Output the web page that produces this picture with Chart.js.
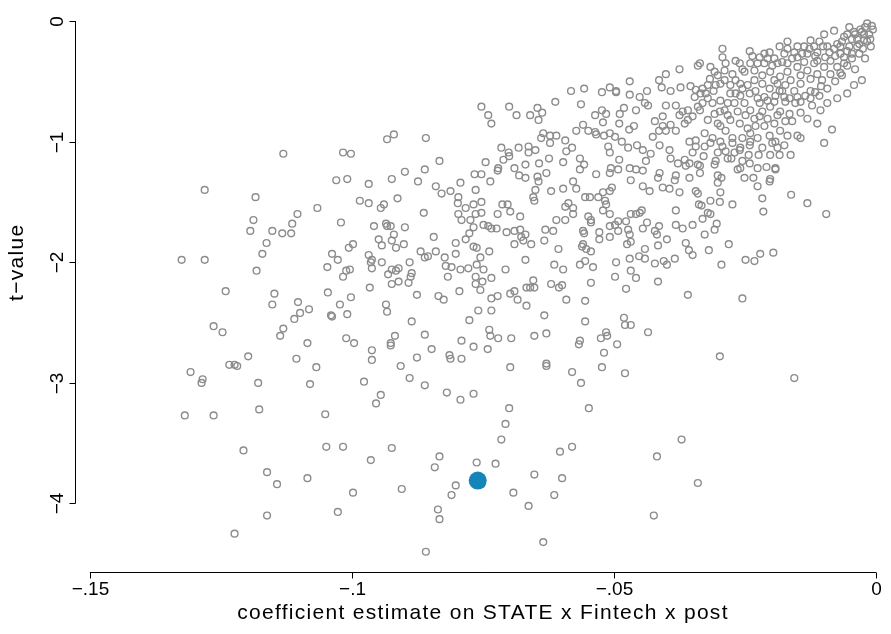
<!DOCTYPE html>
<html>
<head>
<meta charset="utf-8">
<style>
  html, body { margin: 0; padding: 0; background: #fff; }
</style>
<script src="https://cdn.jsdelivr.net/npm/chart.js@4.4.0/dist/chart.umd.min.js"></script>
</head>
<body>
<canvas id="graph" width="891" height="634"></canvas>
<script>
// coefficient estimates (x) and t-values (y)
var coefEst = [
-0.1131,-0.1017,-0.1002,-0.1281,-0.1184,-0.1030,-0.1009,-0.1066,-0.1104,-0.1188,
-0.1114,-0.1194,-0.1152,-0.1133,-0.1116,-0.1021,-0.1163,-0.1171,-0.1325,-0.1281,
-0.1038,-0.1027,-0.1006,-0.0998,-0.1047,-0.1011,-0.1004,-0.1182,-0.1017,-0.1241,
-0.1148,-0.1152,-0.1103,-0.1099,-0.1082,-0.1110,-0.1046,-0.1023,-0.1040,-0.1038,
-0.1009,-0.1002,-0.1264,-0.1247,-0.1131,-0.1137,-0.1085,-0.1011,-0.0996,-0.1198,
-0.1234,-0.1224,-0.1219,-0.1106,-0.1068,-0.1308,-0.1285,-0.1287,-0.1179,-0.1080,
-0.1319,-0.1264,-0.1177,-0.1051,-0.1207,-0.1049,-0.1017,-0.1162,-0.1143,-0.1085,
-0.0998,-0.1027,-0.1162,-0.1224,-0.0933,-0.0920,-0.0859,-0.0833,-0.0968,-0.0924,
-0.0899,-0.0874,-0.0861,-0.0840,-0.0829,-0.0812,-0.0793,-0.0797,-0.0764,-0.0766,
-0.0753,-0.0745,-0.0736,-0.0722,-0.0721,-0.0715,-0.0711,-0.0701,-0.0700,-0.0682,
-0.0663,-0.0690,-0.0681,-0.0669,-0.0669,-0.0985,-0.0968,-0.0945,-0.0939,-0.0913,
-0.0863,-0.0798,-0.0783,-0.0768,-0.0753,-0.0753,-0.0764,-0.0797,-0.0791,-0.0774,
-0.0768,-0.0749,-0.0740,-0.0734,-0.0724,-0.0722,-0.0713,-0.0703,-0.0698,-0.0679,
-0.0705,-0.0690,-0.0679,-0.0677,-0.0673,-0.0690,-0.0669,-0.0958,-0.0935,-0.0933,
-0.0926,-0.0899,-0.0920,-0.0949,-0.0943,-0.0924,-0.0916,-0.0901,-0.0844,-0.0802,
-0.0783,-0.0776,-0.0768,-0.0762,-0.0755,-0.0738,-0.0802,-0.0823,-0.0840,-0.0855,
-0.0861,-0.0869,-0.0890,-0.0943,-0.0968,-0.0962,-0.0964,-0.0962,-0.0924,-0.0911,
-0.0821,-0.0810,-0.0793,-0.0778,-0.0762,-0.0749,-0.0707,-0.0734,-0.0931,-0.0916,
-0.0924,-0.0911,-0.0892,-0.0888,-0.0886,-0.0817,-0.0764,-0.0764,-0.0751,-0.0755,
-0.0734,-0.0698,-0.0690,-0.0684,-0.0667,-0.0667,-0.0722,-0.0734,-0.0966,-0.0876,
-0.0835,-0.0825,-0.0795,-0.0935,-0.0933,-0.0886,-0.0776,-0.0759,-0.0734,-0.0738,
-0.0736,-0.0721,-0.0696,-0.0918,-0.0926,-0.0926,-0.0962,-0.0962,-0.0861,-0.0848,
-0.0876,-0.0907,-0.0814,-0.0812,-0.0791,-0.0791,-0.0768,-0.0741,-0.0698,-0.0890,
-0.0861,-0.0977,-0.0945,-0.0954,-0.0819,-0.0793,-0.0768,-0.0700,-0.0707,-0.0715,
-0.0924,-0.0964,-0.0833,-0.0842,-0.0762,-0.0726,-0.0905,-0.0802,-0.0810,-0.0753,
-0.0692,-0.0663,-0.0836,-0.0833,-0.0859,-0.0652,-0.0629,-0.0565,-0.0567,-0.0525,
-0.0513,-0.0515,-0.0494,-0.0519,-0.0435,-0.0629,-0.0629,-0.0580,-0.0563,-0.0523,
-0.0479,-0.0548,-0.0371,-0.0418,-0.0580,-0.0603,-0.0652,-0.0599,-0.0614,-0.0340,
-0.0424,-0.0635,-0.0255,-0.0298,-0.0156,-0.0652,-0.0593,-0.0587,-0.0578,-0.0578,
-0.0610,-0.0593,-0.0631,-0.0616,-0.0669,-0.0633,-0.0658,-0.0606,-0.0559,-0.0557,
-0.0549,-0.0544,-0.0544,-0.0517,-0.0515,-0.0521,-0.0508,-0.0528,-0.0528,-0.0559,
-0.0561,-0.0553,-0.0544,-0.0508,-0.0508,-0.0498,-0.0492,-0.0492,-0.0477,-0.0473,
-0.0468,-0.0458,-0.0451,-0.0447,-0.0470,-0.0475,-0.0468,-0.0445,-0.0437,-0.0422,
-0.0418,-0.0414,-0.0416,-0.0441,-0.0452,-0.0441,-0.0470,-0.0496,-0.0468,-0.0458,
-0.0498,-0.0477,-0.0399,-0.0382,-0.0382,-0.0369,-0.0350,-0.0363,-0.0357,-0.0350,
-0.0384,-0.0405,-0.0399,-0.0422,-0.0416,-0.0359,-0.0555,-0.0565,-0.0540,-0.0614,
-0.0597,-0.0544,-0.0654,-0.0660,-0.0652,-0.0620,-0.0605,-0.0599,-0.0591,-0.0555,
-0.0633,-0.0555,-0.0481,-0.0479,-0.0468,-0.0338,-0.0375,-0.0340,-0.0401,-0.0414,
-0.0409,-0.0470,-0.0582,-0.0557,-0.0508,-0.0496,-0.0496,-0.0523,-0.0470,-0.0437,
-0.0392,-0.0373,-0.0354,-0.0344,-0.0346,-0.0451,-0.0441,-0.0435,-0.0612,-0.0563,
-0.0660,-0.0646,-0.0637,-0.0644,-0.0536,-0.0523,-0.0515,-0.0521,-0.0489,-0.0481,
-0.0458,-0.0490,-0.0471,-0.0462,-0.0559,-0.0572,-0.0549,-0.0536,-0.0401,-0.0382,
-0.0369,-0.0359,-0.0350,-0.0359,-0.0375,-0.0407,-0.0422,-0.0407,-0.0401,-0.0392,
-0.0382,-0.0365,-0.0340,-0.0635,-0.0622,-0.0610,-0.0639,-0.0622,-0.0593,-0.0663,
-0.0650,-0.0643,-0.0624,-0.0597,-0.0580,-0.0591,-0.0565,-0.0557,-0.0565,-0.0534,
-0.0519,-0.0508,-0.0498,-0.0485,-0.0511,-0.0508,-0.0490,-0.0473,-0.0456,-0.0445,
-0.0430,-0.0439,-0.0458,-0.0445,-0.0470,-0.0492,-0.0506,-0.0508,-0.0534,-0.0413,
-0.0426,-0.0414,-0.0394,-0.0392,-0.0378,-0.0365,-0.0363,-0.0356,-0.0350,-0.0344,
-0.0344,-0.0356,-0.0340,-0.0382,-0.0413,-0.0416,-0.0384,-0.0356,-0.0407,-0.0394,
-0.0375,-0.0344,-0.0445,-0.0432,-0.0468,-0.0504,-0.0508,-0.0521,-0.0530,-0.0578,
-0.0597,-0.0572,-0.0555,-0.0546,-0.0629,-0.0646,-0.0644,-0.0650,-0.0620,-0.0654,
-0.0753,-0.0740,-0.0700,-0.0686,-0.0099,-0.0162,-0.0131,-0.0095,-0.0217,-0.0215,
-0.0226,-0.0203,-0.0202,-0.0192,-0.0192,-0.0209,-0.0234,-0.0251,-0.0264,-0.0259,
-0.0276,-0.0295,-0.0302,-0.0302,-0.0297,-0.0298,-0.0316,-0.0333,-0.0340,-0.0274,
-0.0321,-0.0316,-0.0331,-0.0304,-0.0308,-0.0327,-0.0319,-0.0281,-0.0295,-0.0249,
-0.0232,-0.0221,-0.0196,-0.0224,-0.0202,-0.0184,-0.0163,-0.0243,-0.0188,-0.0175,
-0.0192,-0.0144,-0.0329,-0.0306,-0.0308,-0.0336,-0.0336,-0.0327,-0.0316,-0.0293,
-0.0297,-0.0274,-0.0260,-0.0259,-0.0241,-0.0240,-0.0226,-0.0293,-0.0293,-0.0241,
-0.0222,-0.0184,-0.0169,-0.0150,-0.0125,-0.0099,-0.0080,-0.0051,-0.0040,-0.0042,
-0.0027,-0.0023,-0.0106,-0.0084,-0.0116,-0.0105,-0.0144,-0.0144,-0.0150,-0.0068,
-0.0125,-0.0336,-0.0316,-0.0308,-0.0289,-0.0268,-0.0260,-0.0240,-0.0213,-0.0203,
-0.0335,-0.0325,-0.0310,-0.0331,-0.0336,-0.0297,-0.0289,-0.0268,-0.0251,-0.0232,
-0.0217,-0.0203,-0.0184,-0.0175,-0.0194,-0.0202,-0.0183,-0.0165,-0.0222,-0.0240,
-0.0251,-0.0259,-0.0278,-0.0297,-0.0289,-0.0278,-0.0260,-0.0245,-0.0230,-0.0213,
-0.0194,-0.0183,-0.0297,-0.0302,-0.0287,-0.0274,-0.0255,-0.0240,-0.0327,-0.0312,
-0.0203,-0.0150,-0.0131,-0.0112,-0.0093,-0.0074,-0.0061,-0.0042,-0.0030,-0.0021,
-0.0023,-0.0036,-0.0051,-0.0068,-0.0087,-0.0099,-0.0087,-0.0112,-0.0131,-0.0150,
-0.0169,-0.0188,-0.0202,-0.0183,-0.0163,-0.0144,-0.0125,-0.0156,-0.0173,-0.0194,
-0.0217,-0.0232,-0.0245,-0.0230,-0.0213,-0.0222,-0.0270,-0.0308,-0.0321,-0.0112,
-0.0061,-0.0074,-0.0046,-0.0036,-0.0061,-0.0080,-0.0097,-0.0118,-0.0137,-0.0118,
-0.0137,-0.0156,-0.0175,-0.0194,-0.0213,-0.0169,-0.0144,-0.0103,-0.0125,-0.0150,
-0.0173,-0.0188,-0.0259,-0.0278,-0.0306,-0.0321,-0.0017,-0.0008,-0.0027,-0.0013,
-0.0006,-0.0011,-0.0032,-0.0046,
-0.0065,-0.0055,-0.0046,-0.0032,-0.0025,-0.0017,-0.0010,-0.0021,-0.0040,-0.0055,
-0.0068,-0.0078,-0.0089,-0.0101,-0.0108,-0.0116,-0.0127,-0.0141,-0.0160,-0.0169,
-0.0179,-0.0198,-0.0207,-0.0226,-0.0236,-0.0255,-0.0274,-0.0287,-0.0302,-0.0317,
-0.0055,-0.0065,-0.0078,-0.0093,-0.0108,-0.0122,-0.0135,-0.0154,-0.0165,-0.0179,
-0.0192,-0.0207,-0.0217,-0.0232,-0.0249,-0.0264,-0.0283,-0.0298,-0.0312,-0.0321,
-0.0331,-0.0160,-0.0173,-0.0188,-0.0207,-0.0226,-0.0241,-0.0255,-0.0268,-0.0283,
-0.0302,-0.0287,-0.0283,-0.0270,-0.0255,-0.0241,-0.0226,-0.0217,-0.0198,-0.0169,
-0.0131,-0.0112,-0.0093,-0.0074,-0.0055
];
var tValue = [
-1.10,-1.09,-1.10,-1.40,-1.46,-1.32,-1.31,-1.55,-1.60,-1.65,
-1.68,-1.74,-1.74,-1.76,-1.76,-1.67,-1.84,-1.93,-1.98,-1.98,
-1.93,-1.98,-1.88,-1.85,-2.04,-2.07,-2.06,-2.07,-2.12,-2.24,
-2.26,-2.35,-2.33,-2.42,-2.39,-2.47,-2.25,-2.35,-2.44,-2.45,
-2.43,-2.29,-2.53,-2.58,-2.55,-2.61,-2.67,-2.63,-2.67,-2.78,
-2.85,-2.85,-2.86,-2.80,-2.87,-2.91,-2.97,-3.00,-3.00,-3.01,
-3.27,-3.27,-3.22,-3.26,-3.56,-3.53,-3.53,-3.74,-3.84,-3.79,
-3.91,-4.07,-4.10,-4.25,-0.98,-0.94,-0.97,-1.16,-1.35,-1.31,
-1.25,-1.33,-1.23,-1.37,-1.43,-1.41,-1.34,-1.46,-1.40,-1.27,
-1.27,-1.17,-1.33,-1.24,-1.22,-1.05,-1.15,-1.09,-1.12,-1.05,
-1.04,-1.22,-1.28,-1.19,-1.30,-1.49,-1.51,-1.55,-1.52,-1.47,
-1.59,-1.51,-1.55,-1.52,-1.50,-1.59,-1.60,-1.60,-1.65,-1.65,
-1.71,-1.69,-1.70,-1.72,-1.72,-1.60,-1.52,-1.52,-1.58,-1.62,
-1.75,-1.74,-1.73,-1.79,-1.82,-1.85,-1.98,-1.70,-1.68,-1.70,
-1.70,-1.71,-1.77,-1.81,-1.86,-1.82,-1.88,-1.85,-1.79,-1.84,
-1.81,-1.76,-1.87,-1.88,-1.96,-1.91,-1.93,-1.96,-1.91,-1.95,
-1.96,-1.91,-2.00,-2.00,-1.94,-1.98,-2.00,-2.05,-2.06,-2.05,
-2.03,-2.04,-2.06,-2.05,-2.02,-2.06,-2.06,-0.85,-2.10,-2.07,
-2.18,-2.16,-2.17,-2.12,-2.09,-2.12,-2.12,-2.18,-2.16,-2.23,
-2.13,-2.26,-2.24,-2.31,-2.21,-2.36,-2.28,-2.30,-2.21,-2.27,
-2.28,-2.31,-2.24,-2.35,-2.41,-2.49,-2.48,-2.40,-2.40,-2.56,
-2.61,-2.63,-2.63,-2.61,-2.69,-2.67,-2.73,-2.81,-2.60,-2.72,
-2.79,-2.86,-2.77,-2.80,-2.80,-2.65,-2.70,-2.72,-2.87,-2.96,
-3.02,-2.99,-3.10,-3.17,-3.08,-3.14,-3.09,-3.21,-3.34,-3.47,
-3.54,-3.64,-3.61,-3.70,-3.66,-3.67,-3.88,-3.85,-3.93,-3.84,
-3.91,-4.02,-4.05,-4.13,-4.40,-2.61,-2.59,-2.65,-2.68,-2.63,
-2.61,-2.58,-2.68,-2.75,-2.58,-2.84,-2.86,-2.91,-3.00,-2.87,
-2.92,-3.21,-3.47,-3.61,-3.53,-3.57,-3.76,-3.79,-3.93,-3.83,
-4.10,-4.32,-2.30,-2.78,-2.96,-1.49,-1.54,-1.51,-1.55,-1.60,
-1.65,-1.65,-1.73,-1.74,-1.77,-1.82,-1.85,-1.89,-1.74,-1.76,
-1.62,-1.65,-1.67,-1.49,-1.52,-1.57,-1.60,-1.75,-1.81,-1.85,
-1.87,-1.89,-1.91,-1.79,-1.70,-1.69,-1.66,-1.74,-1.66,-1.73,
-1.60,-1.60,-1.59,-1.57,-1.77,-1.85,-1.83,-1.72,-1.67,-1.74,
-1.77,-1.70,-1.86,-1.89,-1.95,-1.97,-1.97,-2.00,-2.07,-2.13,
-2.12,-2.22,-1.81,-1.57,-1.69,-1.72,-1.69,-1.84,-1.90,-1.94,
-1.97,-1.99,-2.02,-2.01,-2.16,-2.27,-1.99,-2.02,-2.04,-2.02,
-2.06,-2.17,-2.15,-2.21,-2.21,-2.18,-2.21,-2.19,-2.31,-2.32,
-2.44,-2.49,-2.46,-2.52,-2.52,-1.52,-0.40,-0.37,-0.44,-0.49,
-0.55,-0.50,-0.58,-0.56,-0.55,-0.58,-0.59,-0.59,-0.61,-0.58,
-0.58,-0.55,-0.54,-0.57,-0.63,-0.63,-0.68,-0.70,-0.67,-0.69,
-0.78,-0.72,-0.76,-0.82,-0.78,-0.74,-0.77,-0.84,-0.77,-0.72,
-0.74,-0.85,-0.90,-0.87,-0.86,-0.91,-0.91,-0.92,-0.70,-0.70,
-0.75,-0.74,-0.79,-0.82,-0.78,-0.79,-0.83,-0.87,-0.91,-0.86,
-0.91,-0.85,-0.71,-0.93,-0.95,-0.95,-0.97,-1.01,-0.99,-1.09,
-1.07,-1.18,-1.14,-1.17,-1.05,-1.08,-1.14,-1.19,-1.23,-0.94,
-0.95,-0.93,-0.96,-1.00,-1.04,-1.09,-1.15,-1.05,-1.03,-1.07,
-1.10,-1.16,-1.23,-1.24,-1.22,-1.23,-1.22,-1.26,-1.27,-1.03,
-0.96,-0.91,-1.07,-1.14,-1.18,-1.15,-1.20,-1.18,-1.09,-1.04,
-0.99,-1.00,-1.19,-1.28,-1.26,-1.30,-1.32,-1.30,-1.38,-1.39,
-1.42,-1.41,-1.37,-1.41,-1.32,-1.38,-1.41,-1.42,-1.46,-1.33,
-1.39,-1.39,-1.46,-1.46,-1.26,-1.29,-1.33,-1.40,-1.41,-1.46,
-0.71,-0.78,-0.71,-0.78,-1.01,-1.44,-1.51,-1.60,-1.47,-1.58,
-1.37,-1.33,-1.31,-1.23,-1.22,-1.21,-1.30,-1.30,-1.23,-1.22,
-1.14,-1.30,-1.28,-1.34,-1.42,-1.50,-1.49,-1.53,-1.43,-1.52,
-1.59,-1.60,-1.64,-1.68,-1.73,-1.77,-1.90,-1.85,-2.02,-1.98,
-1.99,-1.93,-1.92,-1.11,-1.11,-1.11,-1.11,-1.11,-1.05,-1.03,
-1.00,-0.97,-1.12,-1.16,-1.19,-1.20,-1.26,-1.04,-1.01,-1.04,
-1.00,-1.01,-1.07,-1.05,-1.03,-1.00,-0.97,-0.23,-0.30,-0.25,
-0.30,-0.21,-0.17,-0.21,-0.16,-0.11,-0.08,-0.05,-0.40,-0.53,
-0.49,-0.16,-0.74,-0.90,-0.59,-0.54,-0.76,-0.67,-0.95,-0.43,
-0.48,-0.35,-0.38,-0.42,-0.41,-0.33,-0.35,-0.35,-0.27,-0.26,
-0.60,-0.60,-0.58,-0.68,-0.74,-0.52,-0.49,-0.49,-0.42,-0.41,
-0.52,-0.56,-0.58,-0.63,-0.67,-0.71,-0.75,-0.77,-0.79,-0.74,
-0.68,-0.62,-0.60,-0.66,-0.74,-0.82,-0.85,-0.89,-0.87,-0.87,
-0.85,-0.91,-0.87,-0.85,-0.91,-0.97,-0.97,-0.93,-0.93,-0.97,
-0.95,-0.30,-0.27,-0.26,-0.21,-0.19,-0.13,-0.09,-0.07,-0.05,
-0.11,-0.15,-0.21,-0.27,-0.33,-0.38,-0.44,-0.44,-0.41,-0.38,
-0.35,-0.35,-0.42,-0.46,-0.49,-0.52,-0.58,-0.58,-0.53,-0.49,
-0.45,-0.49,-0.53,-0.58,-0.63,-0.68,-0.68,-0.77,-0.82,-0.33,
-0.35,-0.38,-0.27,-0.21,-0.30,-0.23,-0.30,-0.35,-0.34,-0.21,
-0.21,-0.26,-0.27,-0.31,-0.35,-0.42,-0.45,-0.49,-0.64,-0.63,
-0.67,-0.52,-0.52,-0.53,-0.53,-0.53,-0.02,-0.04,-0.09,-0.11,
-0.07,-0.15,-0.19,-0.15,
-0.17,-0.25,-0.31,-0.27,-0.23,-0.17,-0.21,-0.31,-0.11,-0.11,
-0.21,-0.29,-0.26,-0.21,-0.17,-0.29,-0.23,-0.27,-0.31,-0.23,
-0.34,-0.37,-0.31,-0.35,-0.29,-0.40,-0.44,-0.35,-0.45,-0.48,
-0.37,-0.45,-0.50,-0.56,-0.62,-0.70,-0.62,-0.68,-0.64,-0.58,
-0.62,-0.66,-0.75,-0.81,-0.78,-0.75,-0.78,-0.75,-0.68,-0.64,
-0.56,-0.83,-0.83,-0.78,-0.81,-0.64,-0.60,-0.56,-0.60,-0.68,
-1.09,-1.08,-1.14,-1.09,-1.16,-1.18,-1.22,-1.05,-1.01,-0.95,
-0.81,-0.85,-0.68,-0.64,-0.60
];

// highlighted estimate
var pickCoef = [-0.0760];
var pickT = [-3.81];

var xTicks = [-0.15, -0.1, -0.05, 0];
var xTickLabels = ['\u2212.15', '\u2212.1', '\u2212.05', '0'];
var yTicks = [0, -1, -2, -3, -4];
var yTickLabels = ['0', '\u22121', '\u22122', '\u22123', '\u22124'];
var xTitle = 'coefficient estimate on STATE x Fintech x post';
var yTitle = 't\u2212value';

var grayPts = [];
for (var i = 0; i < coefEst.length; i++) {
    grayPts.push({x: coefEst[i], y: tValue[i]});
}
var bluePts = [];
for (var j = 0; j < pickCoef.length; j++) {
    bluePts.push({x: pickCoef[j], y: pickT[j]});
}

var tickFont = '19px "Liberation Sans", Arial, sans-serif';
var titleFont = '21px "Liberation Sans", Arial, sans-serif';

// Stata style axes: lines only over the labelled range, outward ticks
var stataAxes = {
    id: 'stataAxes',
    afterDraw: function (chart) {
        var ctx = chart.ctx;
        var xs = chart.scales.x;
        var ys = chart.scales.y;
        var area = chart.chartArea;
        ctx.save();
        ctx.strokeStyle = '#000';
        ctx.fillStyle = '#000';
        ctx.lineWidth = 1;

        // x axis
        var yb = Math.round(area.bottom) + 0.5;
        ctx.beginPath();
        ctx.moveTo(xs.getPixelForValue(xTicks[0]), yb);
        ctx.lineTo(xs.getPixelForValue(xTicks[xTicks.length - 1]), yb);
        ctx.stroke();
        ctx.font = tickFont;
        ctx.textAlign = 'center';
        ctx.textBaseline = 'top';
        for (var i = 0; i < xTicks.length; i++) {
            var px = Math.round(xs.getPixelForValue(xTicks[i])) + 0.5;
            ctx.beginPath();
            ctx.moveTo(px, yb);
            ctx.lineTo(px, yb + 6);
            ctx.stroke();
            ctx.fillText(xTickLabels[i], px, yb + 8);
        }
        ctx.font = titleFont;
        ctx.letterSpacing = '1.3px';
        ctx.textBaseline = 'middle';
        ctx.fillText(xTitle, (xs.getPixelForValue(xTicks[0]) + xs.getPixelForValue(0)) / 2, 613);
        ctx.letterSpacing = '0px';

        // y axis
        var xl = Math.round(area.left) + 0.5;
        ctx.beginPath();
        ctx.moveTo(xl, ys.getPixelForValue(yTicks[0]));
        ctx.lineTo(xl, ys.getPixelForValue(yTicks[yTicks.length - 1]));
        ctx.stroke();
        ctx.font = tickFont;
        for (var k = 0; k < yTicks.length; k++) {
            var py = Math.round(ys.getPixelForValue(yTicks[k])) + 0.5;
            ctx.beginPath();
            ctx.moveTo(xl, py);
            ctx.lineTo(xl - 6, py);
            ctx.stroke();
            ctx.save();
            ctx.translate(xl - 8, py);
            ctx.rotate(-Math.PI / 2);
            ctx.textAlign = 'center';
            ctx.textBaseline = 'bottom';
            ctx.fillText(yTickLabels[k], 0, 0);
            ctx.restore();
        }
        ctx.font = titleFont;
        ctx.letterSpacing = '1.3px';
        ctx.save();
        ctx.translate(17, (ys.getPixelForValue(0) + ys.getPixelForValue(-4)) / 2);
        ctx.rotate(-Math.PI / 2);
        ctx.textAlign = 'center';
        ctx.textBaseline = 'middle';
        ctx.fillText(yTitle, 0, 0);
        ctx.restore();
        ctx.letterSpacing = '0px';

        ctx.restore();
    }
};

new Chart(document.getElementById('graph'), {
    type: 'scatter',
    data: {
        datasets: [
            {
                label: 'selected',
                data: bluePts,
                pointRadius: 9,
                pointBackgroundColor: '#1385b8',
                pointBorderColor: '#1385b8',
                pointBorderWidth: 0
            },
            {
                label: 'estimates',
                data: grayPts,
                pointRadius: 3.4,
                pointBackgroundColor: 'rgba(0,0,0,0)',
                pointBorderColor: '#8c8c8c',
                pointBorderWidth: 1.4
            }
        ]
    },
    options: {
        responsive: false,
        animation: false,
        devicePixelRatio: 1,
        layout: { padding: { left: 75, right: 6, top: 5, bottom: 62 } },
        plugins: { legend: { display: false }, tooltip: { enabled: false } },
        scales: {
            x: { type: 'linear', display: false, min: -0.15285, max: 0.00114 },
            y: { type: 'linear', display: false, min: -4.568, max: 0.1 }
        }
    },
    plugins: [stataAxes]
});
</script>
</body>
</html>
